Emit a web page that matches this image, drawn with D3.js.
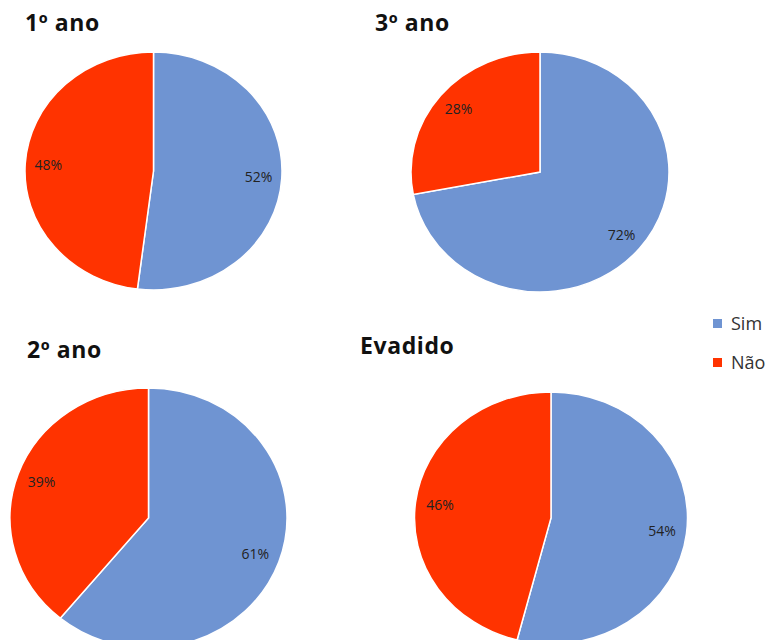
<!DOCTYPE html>
<html><head><meta charset="utf-8">
<script src="https://cdn.jsdelivr.net/npm/d3@7"></script>
<style>html,body{margin:0;padding:0;background:#fff;}svg{display:block;}</style>
</head><body>
<script>
const categories = ["Sim", "Não"];
const charts = ["1º ano", "3º ano", "2º ano", "Evadido"];
const sim = [52, 72, 61, 54];
const nao = [48, 28, 39, 46];
const colors = ["#6f94d2", "#ff3300"];

const W = 772, H = 640;
const svg = d3.select("body").append("svg").attr("width", W).attr("height", H);

// layout per panel (not data)
const layout = [
  {cx: 153.5, cy: 171, rx: 128.5, ry: 119, tx: 25, ty: 31},
  {cx: 540, cy: 172, rx: 129, ry: 120, tx: 375, ty: 31},
  {cx: 148.5, cy: 518, rx: 138.5, ry: 130, tx: 27, ty: 358},
  {cx: 551, cy: 518, rx: 136.5, ry: 126, tx: 360, ty: 354}
];

const color = d3.scaleOrdinal().domain(categories).range(colors);
const pie = d3.pie().sort(null).value(d => d.v);

charts.forEach((name, i) => {
  const L = layout[i];
  const data = categories.map((c, j) => ({c, v: j === 0 ? sim[i] : nao[i]}));
  const arcs = pie(data);
  const arc = d3.arc().innerRadius(0).outerRadius(L.rx);
  const labelArc = d3.arc().innerRadius(L.rx * 0.82).outerRadius(L.rx * 0.82);
  const sy = L.ry / L.rx;
  const g = svg.append("g").attr("transform", `translate(${L.cx},${L.cy}) scale(1,${sy})`);
  g.selectAll("path").data(arcs).join("path")
    .attr("d", arc)
    .attr("fill", d => color(d.data.c))
    .attr("stroke", "#fff")
    .attr("stroke-width", 1.5)
    .attr("vector-effect", "non-scaling-stroke");
  svg.append("g").selectAll("text").data(arcs).join("text")
    .attr("x", d => L.cx + labelArc.centroid(d)[0])
    .attr("y", d => L.cy + labelArc.centroid(d)[1] * sy)
    .attr("dy", "0.35em")
    .attr("text-anchor", "middle")
    .attr("font-family", "'Open Sans', sans-serif")
    .attr("font-size", 14)
    .attr("fill", "#222")
    .text(d => d.data.v + "%");
  svg.append("text")
    .attr("x", L.tx).attr("y", L.ty)
    .attr("font-family", "'Open Sans', sans-serif")
    .attr("font-weight", "bold")
    .attr("font-size", 23)
    .attr("letter-spacing", 0.6)
    .attr("fill", "#111")
    .text(name);
});

const leg = svg.append("g").selectAll("g").data(categories).join("g")
  .attr("transform", (d, i) => `translate(713,${319 + i * 39})`);
leg.append("rect").attr("width", 9).attr("height", 9).attr("fill", d => color(d));
leg.append("text").attr("x", 18).attr("y", 10.5)
  .attr("font-family", "'Open Sans', sans-serif").attr("font-size", 18).attr("fill", "#333")
  .text(d => d);
</script>
</body></html>
